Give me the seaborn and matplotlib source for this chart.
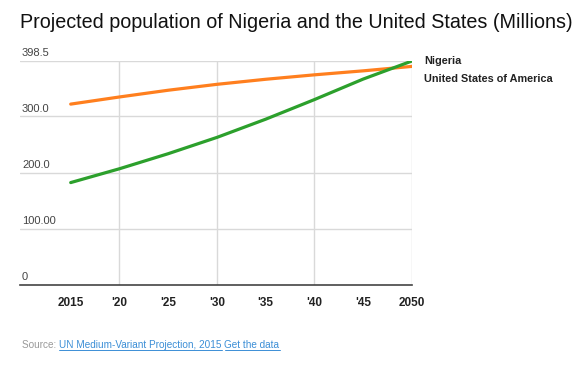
import matplotlib
matplotlib.use("Agg")
import matplotlib.pyplot as plt
import pandas as pd
import seaborn as sns

##DATA: ------------------------------------------------------------------------
years = [2015, 2020, 2025, 2030, 2035, 2040, 2045, 2050]
nigeria = [182.2, 206.8, 233.6, 262.6, 295.0, 329.9, 366.4, 398.5]
usa = [321.8, 334.5, 346.5, 357.0, 366.0, 373.9, 381.0, 388.9]
series_names = ["Nigeria", "United States of America"]
series_colors = ["#2ca02c", "#ff7f1e"]
y_ticks = [0, 100, 200, 300, 398.5]
y_labels = ["0", "100.00", "200.0", "300.0", "398.5"]
x_ticks = [2015, 2020, 2025, 2030, 2035, 2040, 2045, 2050]
x_labels = ["2015", "'20", "'25", "'30", "'35", "'40", "'45", "2050"]

df = pd.DataFrame({"year": years * 2,
                   "pop": nigeria + usa,
                   "country": [series_names[0]] * len(years) + [series_names[1]] * len(years)})

##PLOT: ------------------------------------------------------------------------
sns.set_style("white")
plt.rcParams["font.family"] = ["Liberation Sans", "DejaVu Sans"]

fig = plt.figure(figsize=(5.82, 3.68), dpi=100)
ax = fig.add_axes([20 / 582, 1 - 285 / 368, 392 / 582, 224 / 368])

#draw us first so nigeria sits on top
sns.lineplot(data=df, x="year", y="pop", hue="country",
             hue_order=series_names[::-1], palette=series_colors[::-1],
             linewidth=2.3, legend=False, ax=ax)

ax.set_xlim(2009.8, 2050)
ax.set_ylim(0, 398.5)

#grid
for yv in y_ticks[1:]:
    ax.axhline(yv, color="#d9d9d9", linewidth=1, zorder=0)
for xv in [2020, 2030, 2040, 2050]:
    ax.axvline(xv, color="#d9d9d9", linewidth=1, zorder=0)

for s in ["top", "right", "left"]:
    ax.spines[s].set_visible(False)
ax.spines["bottom"].set_color("#444444")
ax.spines["bottom"].set_linewidth(1.2)

ax.set_xticks(x_ticks)
ax.set_xticklabels(x_labels, fontsize=8.5, fontweight="bold", color="#222222")
ax.tick_params(axis="x", length=0, pad=9)
ax.set_yticks([])
ax.set_xlabel("")
ax.set_ylabel("")

#y labels above gridlines
for yv, lab in zip(y_ticks, y_labels):
    ax.text(2010.0, yv + 5, lab, fontsize=8, color="#444444", va="bottom", ha="left")

#legend as text on the right
fig.text(424 / 582, 1 - 61 / 368, series_names[0], fontsize=7.8, fontweight="bold",
         color="#222222", va="center")
fig.text(424 / 582, 1 - 79 / 368, series_names[1], fontsize=7.8, fontweight="bold",
         color="#222222", va="center")

fig.text(20 / 582, 1 - 22 / 368, "Projected population of Nigeria and the United States (Millions)",
         fontsize=14.2, color="#111111", va="center")

#source line
t1 = fig.text(22 / 582, 1 - 345 / 368, "Source: ", fontsize=7.2, color="#999999", va="center")
fig.canvas.draw()
bb = t1.get_window_extent()
t2 = fig.text(bb.x1 / 582, 1 - 345 / 368, "UN Medium-Variant Projection, 2015",
              fontsize=7.2, color="#3b8ed6", va="center")
fig.canvas.draw()
bb2 = t2.get_window_extent()
t3 = fig.text((bb2.x1 + 3) / 582, 1 - 345 / 368, "Get the data",
              fontsize=7.2, color="#3b8ed6", va="center")
fig.canvas.draw()
for t in [t2, t3]:
    b = t.get_window_extent()
    fig.add_artist(plt.Line2D([b.x0 / 582, b.x1 / 582], [(b.y0 + 0.5) / 368] * 2,
                              color="#3b8ed6", linewidth=0.7))

fig.savefig("out.png", dpi=100)
